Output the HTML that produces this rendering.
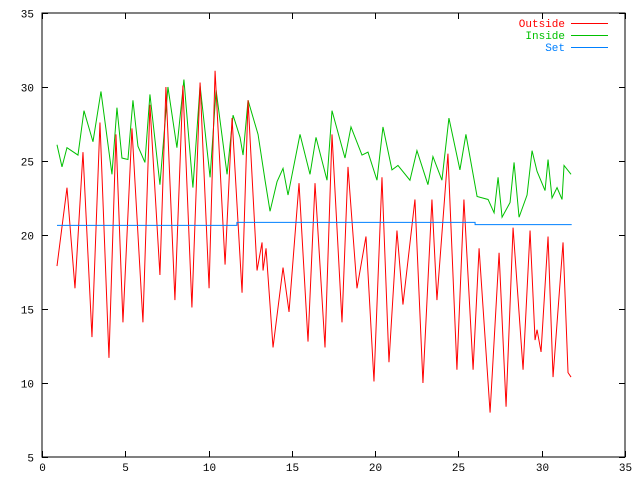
<!DOCTYPE html>
<html><head><meta charset="utf-8"><style>
body{margin:0;background:#fff}
svg text{font-family:"Liberation Mono",monospace;font-size:11px}
</style></head><body>
<svg id="c" width="640" height="480"></svg>
<script>
const xTicks=[0,5,10,15,20,25,30,35];
const yTicks=[5,10,15,20,25,30,35];
const outsideDays=[0.90,1.50,1.98,2.46,3.00,3.48,4.02,4.44,4.86,5.40,6.06,6.48,7.08,7.44,7.98,8.46,9.00,9.49,10.03,10.39,10.99,11.41,12.01,12.37,12.91,13.21,13.27,13.45,13.87,14.47,14.83,15.43,15.97,16.39,16.99,17.41,18.01,18.37,18.91,19.45,19.93,20.41,20.83,21.31,21.67,22.39,22.87,23.41,23.71,24.37,24.91,25.33,25.88,26.24,26.90,27.44,27.86,28.28,28.88,29.30,29.60,29.72,29.96,30.38,30.68,31.28,31.58,31.76];
const outsideVals=[17.9,23.2,16.4,25.6,13.1,27.6,11.7,26.8,14.1,27.2,14.1,28.8,17.3,30.0,15.6,30.1,15.1,30.3,16.4,31.1,18.0,27.9,16.1,29.1,17.6,19.5,17.6,19.1,12.4,17.8,14.8,23.5,12.8,23.5,12.4,26.8,14.1,24.6,16.4,19.9,10.1,23.9,11.4,20.3,15.3,22.4,10.0,22.4,15.6,25.5,10.9,22.4,10.9,19.1,8.0,18.8,8.4,20.5,10.9,20.3,12.9,13.6,12.1,19.9,10.4,19.5,10.7,10.4];
const insideDays=[0.90,1.20,1.50,2.16,2.52,3.06,3.54,4.20,4.50,4.80,5.16,5.46,5.76,6.18,6.48,7.08,7.56,8.10,8.52,9.06,9.49,10.09,10.45,11.11,11.47,11.89,12.07,12.37,12.97,13.39,13.69,14.11,14.47,14.77,15.49,16.09,16.45,17.11,17.41,18.19,18.55,19.21,19.57,20.11,20.47,21.01,21.37,22.09,22.51,23.17,23.47,24.01,24.43,25.09,25.45,26.12,26.78,27.14,27.38,27.62,28.10,28.34,28.64,29.12,29.42,29.72,30.20,30.38,30.62,30.92,31.22,31.34,31.76];
const insideVals=[26.1,24.6,25.9,25.4,28.4,26.3,29.7,24.1,28.6,25.2,25.1,29.1,26.0,24.9,29.5,23.4,30.0,25.9,30.5,23.2,30.1,23.9,29.8,24.1,28.1,26.6,25.4,29.1,26.8,23.7,21.6,23.6,24.5,22.7,26.8,24.1,26.6,23.7,28.4,25.2,27.3,25.4,25.6,23.7,27.3,24.4,24.7,23.7,25.7,23.4,25.3,23.7,27.9,24.4,26.8,22.6,22.4,21.5,23.9,21.2,22.2,24.9,21.2,22.7,25.7,24.3,23.0,25.1,22.5,23.2,22.4,24.7,24.1];
const setDays=[0.90,11.70,26.00,31.80];
const setVals=[20.65,20.85,20.70,20.70];
const legendLabels=["Outside","Inside","Set"];
const colors=["#ff0000","#00c000","#0080ff"];

const L=42,R=625,T=13,B=457;
const xs=d=>L+(d-0)/(35-0)*(R-L);
const ys=v=>B-(v-5)/(35-5)*(B-T);
const svg=document.getElementById('c');
const NS='http://www.w3.org/2000/svg';
function mk(tag,attrs){const e=document.createElementNS(NS,tag);for(const k in attrs)e.setAttribute(k,attrs[k]);svg.appendChild(e);return e;}

const border=mk('rect',{x:L,y:T,width:R-L,height:B-T,fill:'none',stroke:'#000','stroke-width':1});



xTicks.forEach(t=>{
  const x=Math.round(xs(t))+0.5;
  const a=mk('path',{d:`M${x} ${B}V${B-6}M${x} ${T}V${T+6}`,stroke:'#000'});
  
  
  const tx=mk('text',{x:x,y:B+14,'text-anchor':'middle'});tx.textContent=t;
  
  
});
yTicks.forEach(t=>{
  const y=Math.round(ys(t))+0.5;
  const a=mk('path',{d:`M${L} ${y}H${L+6}M${R} ${y}H${R-6}`,stroke:'#000'});
  
  
  const tx=mk('text',{x:L-8,y:y+4,'text-anchor':'end'});tx.textContent=t;
  
  
});

function line(days,vals,color,name,step){
  let d='';
  days.forEach((dd,i)=>{
    const x=xs(dd),y=ys(vals[i]);
    if(i===0)d+=`M${x} ${y}`;
    else if(step)d+=`H${x}V${y}`;
    else d+=`L${x} ${y}`;
  });
  const p=mk('path',{d:d,fill:'none',stroke:color,'stroke-width':1});
  
  
}
line(insideDays,insideVals,colors[1],'inside-series',false);
line(outsideDays,outsideVals,colors[0],'outside-series',false);
line(setDays,setVals,colors[2],'set-series',true);

legendLabels.forEach((lab,i)=>{
  const y=23+i*12;
  const t=mk('text',{x:565,y:y+4,'text-anchor':'end',fill:colors[i]});t.textContent=lab;
  
  
  const l=mk('path',{d:`M571 ${y+0.5}H608`,stroke:colors[i]});
  
  
});
</script>
</body></html>
